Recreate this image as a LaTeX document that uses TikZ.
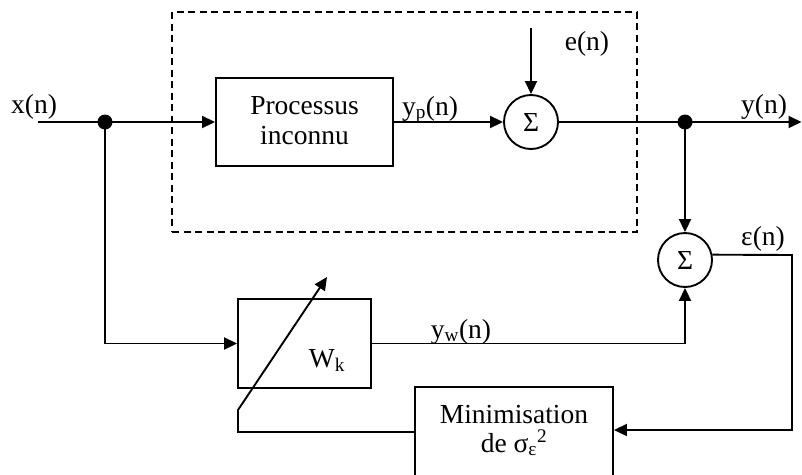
\documentclass[tikz,border=0pt]{standalone}
\usepackage{fontspec}
\setmainfont{Liberation Serif}
\usetikzlibrary{arrows.meta}
\begin{document}
\begin{tikzpicture}[x=1pt,y=-1pt, line width=1.9pt,
  >={Triangle[length=13pt,width=12pt]},
  every node/.style={font=\fontsize{27.5}{30}\selectfont},
  blk/.style={draw, rectangle, inner sep=0pt},
  sumnode/.style={draw, circle, minimum size=54pt, inner sep=0pt},
  lbl/.style={anchor=base, inner sep=0pt},
  sysbox/.style={draw, rectangle, inner sep=0pt, line width=1.5pt, dash pattern=on 7pt off 4.5pt}]
  \clip (0,0) rectangle (802,474);
  % blocks
  \node[sysbox, minimum width=465pt, minimum height=220pt] (sys) at (404.5,122) {};
  \node[blk, minimum width=177pt, minimum height=88pt] (proc) at (304.5,122) {};
  \node[lbl] (p1) at (304.5,114) {Processus};
  \node[lbl] (p2) at (304.5,144) {inconnu};
  \node[sumnode] (s1) at (531,122) {Σ};
  \node[sumnode] (s2) at (685,260) {Σ};
  \node[blk, minimum width=133pt, minimum height=89pt] (wk) at (304.5,343.5) {};
  \node[lbl] (wl) at (327,367) {W\textsubscript{k}};
  \node[blk, minimum width=198pt, minimum height=110pt] (mbox) at (514,442) {};
  \node[lbl] (m1) at (514,423) {Minimisation};
  \node[lbl] (m2) at (514,452) {de σ\textsubscript{ε}\textsuperscript{2}};
  % coordinates
  \coordinate (xin) at (38,122);
  \coordinate (yout) at (801.5,122);
  \coordinate (d1) at (105,122);
  \coordinate (d2) at (685,122);
  \coordinate (etop) at (531,28);
  \coordinate (c1) at (792,255);
  \coordinate (c2) at (792,430);
  \coordinate (c3) at (238,432);
  \coordinate (c4) at (238,410);
  \coordinate (c5) at (327,277);
  % connectors
  \draw[->] (xin) -- (proc.west);
  \draw[->] (proc.east) -- (s1.west);
  \draw[->] (etop) -- (s1.north);
  \draw[->] (s1.east) -- (yout);
  \draw[->] (d2) -- (s2.north);
  \draw[->] (d1) |- (wk.west);
  \draw[->] (wk.east) -| (s2.south);
  \draw[->] (s2.11) -- (c1) -- (c2) -- (c2 -| mbox.east);
  \draw[->] (c3 -| mbox.west) -- (c3) -- (c4) -- (c5);
  \fill (d1) circle[radius=7.5pt];
  \fill (d2) circle[radius=7.5pt];
  % labels
  \node[lbl] (lx) at (34,113) {x(n)};
  \node[lbl] (lyp) at (430,115) {y\textsubscript{p}(n)};
  \node[lbl] (le) at (587,50) {e(n)};
  \node[lbl] (ly) at (764,113) {y(n)};
  \node[lbl] (leps) at (763,245) {ε(n)};
  \node[lbl] (lyw) at (461,338) {y\textsubscript{w}(n)};
\end{tikzpicture}
\end{document}
